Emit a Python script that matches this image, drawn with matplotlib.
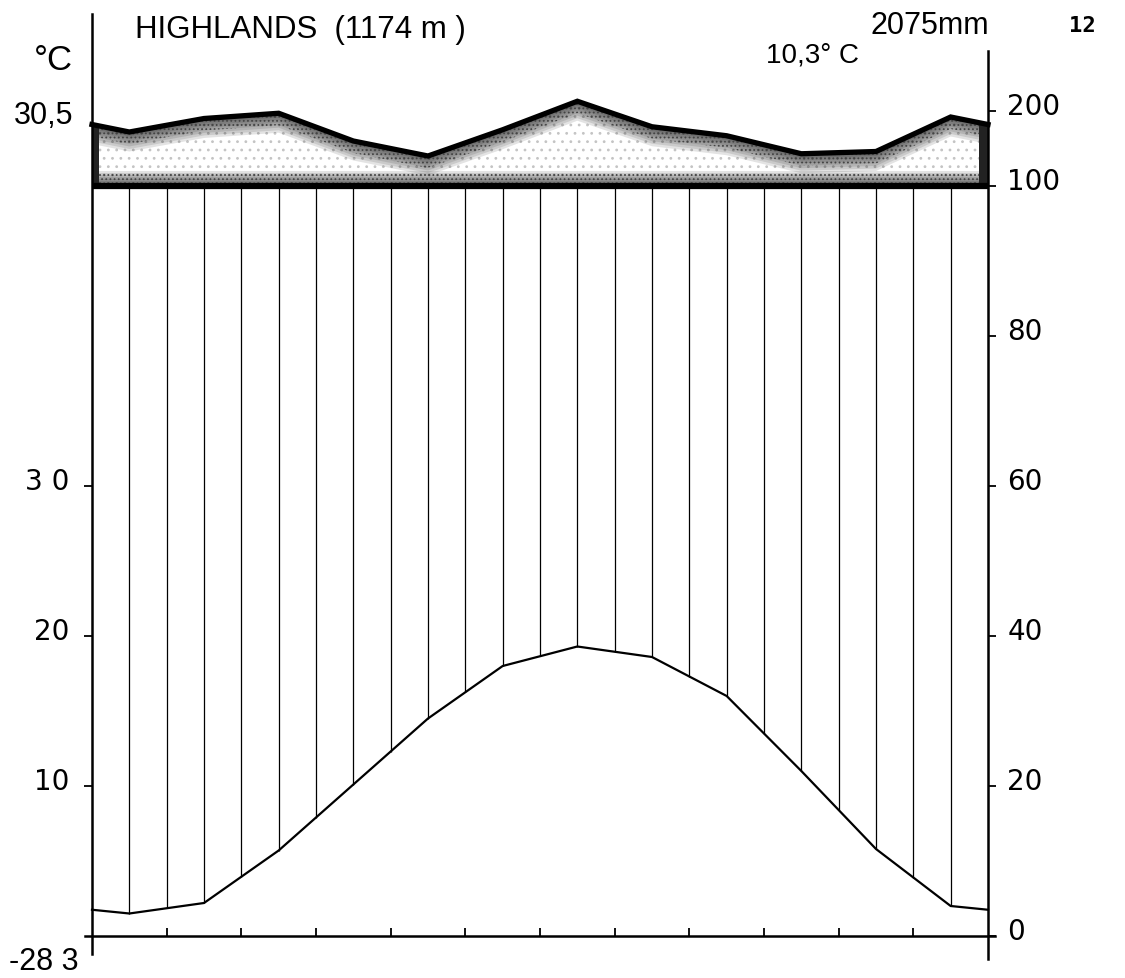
"""
Klimadiagramm (Walter-Lieth) fuer Highlands, 1174 m.
Temperatur unten, Niederschlag oben (ueber 100 mm auf 1/10 gestaucht).
"""
import numpy as np
import matplotlib
matplotlib.use("Agg")
import matplotlib.pyplot as plt
from matplotlib.transforms import ScaledTranslation

# monthly means, Jan..Dec
temp_c = [1.5, 2.2, 5.7, 10.1, 14.5, 18.0, 19.3, 18.6, 16.0, 11.0, 5.8, 2.0]
precip_mm = [172, 190, 197, 160, 140, 175, 213, 179, 167, 143, 146, 192]

temp_ticks = [10, 20, 30]
temp_tick_labels = ['10', '20', '3 0']
precip_ticks = [0, 20, 40, 60, 80, 100, 200]
precip_tick_labels = ['0', '20', '40', '60', '80', '100', '200']

FONT = 'Liberation Sans'
NUM_FONT = 'DejaVu Sans'
W, H = 1125, 979


def precip_to_temp(p):
    # 10 C = 20 mm, above 100 mm the scale is reduced to 1/10
    p = np.asarray(p, dtype=float)
    return np.where(p <= 100, p / 2.0, 50 + (p - 100) / 20.0)


# curves at mid-month, closed at both edges with the Dec/Jan mean
x_mid = np.arange(12) + 0.5
x_ext = np.concatenate([[0], x_mid, [12]])
t_edge = (temp_c[0] + temp_c[-1]) / 2
t_ext = np.concatenate([[t_edge], temp_c, [t_edge]])
p_edge = (precip_mm[0] + precip_mm[-1]) / 2
p_ext = precip_to_temp(np.concatenate([[p_edge], precip_mm, [p_edge]]))

fig = plt.figure(figsize=(W / 100, H / 100), dpi=100)
fig.patch.set_facecolor('white')

# axes placed so that x=0 -> 92px, x=12 -> 988px, 0 C -> 937px, 15px per C
px_per_month = (988 - 92) / 12
x_lo, x_hi = -0.1, 12.1
ax_left = 92 + x_lo * px_per_month
ax_width = (x_hi - x_lo) * px_per_month
y_lo, y_hi = (937 - H) / 15, 937 / 15
ax = fig.add_axes([ax_left / W, 0, ax_width / W, 1])
ax.set_xlim(x_lo, x_hi)
ax.set_ylim(y_lo, y_hi)
ax.patch.set_alpha(0)

# humid period: vertical hatching from temperature line up to 100 mm
xs = np.arange(0.5, 12, 0.5)
ax.vlines(xs, np.interp(xs, x_ext, t_ext), 50, color='black', lw=0.9)
ax.plot(x_ext, t_ext, color='black', lw=1.6, solid_joinstyle='miter')

# >100 mm band: light speckle inside, grainy dark towards the edges
plt.rcParams['hatch.linewidth'] = 0.8
ax.fill_between(x_ext, 50, p_ext, facecolor='white', edgecolor='#c4c4c4',
                hatch='..', lw=0)
for d in np.linspace(0.12, 1.3, 8):
    ax.fill_between(x_ext, p_ext - d, p_ext, facecolor='black', alpha=0.11, lw=0)
    ax.fill_between(x_ext, 50, np.minimum(50 + d * 0.75, p_ext),
                    facecolor='black', alpha=0.11, lw=0)
ax.fill_between(x_ext, p_ext - 0.8, p_ext, facecolor='none', edgecolor='#444444',
                hatch='....', lw=0)
ax.fill_between(x_ext, 50, 50.9, facecolor='none', edgecolor='#444444',
                hatch='....', lw=0)
for x0, x1, yt in [(0, 0.1, p_ext[0]), (11.88, 12, p_ext[-1])]:
    ax.fill_between([x0, x1], 50, yt, facecolor='#222222', lw=0)
ax.plot(x_ext, p_ext, color='black', lw=3.8, solid_joinstyle='miter')
ax.hlines(50, 0, 12, color='black', lw=4.5)

# axes lines
for s in ['top', 'right']:
    ax.spines[s].set_visible(False)
ax.spines['left'].set_position(('data', 0))
ax.spines['left'].set_bounds(-1.2, 61.5)
ax.spines['bottom'].set_position(('data', 0))
for s in ['left', 'bottom']:
    ax.spines[s].set_linewidth(1.8)

ax.set_xticks(range(1, 12))
ax.tick_params(axis='x', direction='in', length=6, width=1.3, labelbottom=False)
ax.set_yticks(temp_ticks)
ax.set_yticklabels(temp_tick_labels, fontsize=20, family=NUM_FONT)
ax.tick_params(axis='y', direction='out', length=6, width=1.3, pad=10)

ax2 = ax.twinx()
ax2.set_ylim(y_lo, y_hi)
for s in ['top', 'left', 'bottom']:
    ax2.spines[s].set_visible(False)
ax2.spines['right'].set_position(('data', 12))
ax2.spines['right'].set_bounds(-1.5, 59)
ax2.spines['right'].set_linewidth(1.8)
ax2.set_yticks(precip_to_temp(precip_ticks))
ax2.set_yticklabels(precip_tick_labels, fontsize=20, family=NUM_FONT)
ax2.tick_params(axis='y', direction='out', length=6, width=1.3, pad=8)

# tick labels sit a little above their ticks in the original
up = ScaledTranslation(0, 8 / 100, fig.dpi_scale_trans)
for lab in ax.get_yticklabels() + ax2.get_yticklabels():
    lab.set_transform(lab.get_transform() + up)


def ftext(x, y, s, **kw):
    kw.setdefault('family', FONT)
    kw.setdefault('fontsize', 20)
    fig.text(x / W, 1 - y / H, s, va='center', **kw)


ftext(135, 30, 'HIGHLANDS  (1174 m )', ha='left', fontsize=22.5)
ftext(53, 60, '°C', ha='center', fontsize=25)
ftext(44, 116, '30,5', ha='center', fontsize=22)
ftext(44, 962, '-28 3', ha='center', fontsize=22)
ftext(813, 55, '10,3° C', ha='center')
ftext(930, 26, '2075mm', ha='center', fontsize=22)
ftext(1082, 26, '12', ha='center', family='DejaVu Sans Mono',
      fontsize=16, weight='bold')

fig.savefig('out.png', dpi=100, facecolor='white')
